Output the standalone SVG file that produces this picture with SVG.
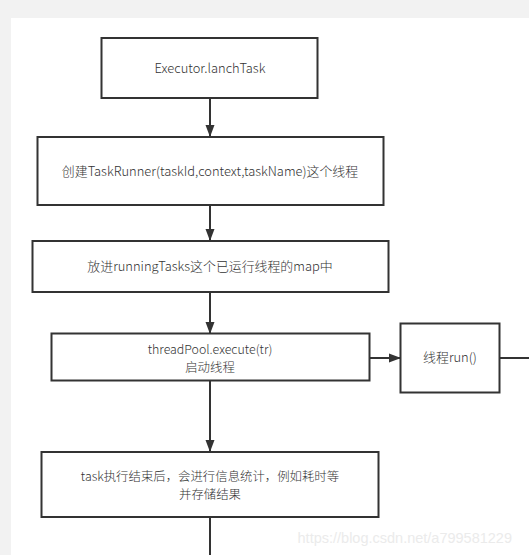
<svg xmlns="http://www.w3.org/2000/svg" width="529" height="555" viewBox="0 0 529 555">
<style>
.box{fill:#fff;stroke:#333;stroke-width:2}
.t{font-family:"Noto Sans CJK SC","Noto Sans",sans-serif;font-size:12.9px;font-weight:300;fill:#333;text-anchor:middle}
.m{font-size:12.4px}
.ln{stroke:#333;stroke-width:2;fill:none}
</style>
<defs>
<marker id="ah" markerWidth="12" markerHeight="10" refX="11" refY="5" orient="auto" markerUnits="userSpaceOnUse">
<path d="M0,0.5 L12,5 L0,9.5 Z" fill="#333"/>
</marker>
</defs>
<rect x="0" y="0" width="529" height="555" fill="#f2f2f2"/>
<rect x="11" y="18" width="518" height="537" fill="#fff"/>
<g id="connectors">
<line class="ln" x1="210" y1="98" x2="210" y2="136" marker-end="url(#ah)"/>
<line class="ln" x1="210" y1="205" x2="210" y2="240" marker-end="url(#ah)"/>
<line class="ln" x1="210" y1="292" x2="210" y2="333" marker-end="url(#ah)"/>
<line class="ln" x1="370" y1="358" x2="400" y2="358" marker-end="url(#ah)"/>
<line class="ln" x1="500" y1="358" x2="529" y2="358"/>
<line class="ln" x1="210" y1="381" x2="210" y2="451" marker-end="url(#ah)"/>
<line class="ln" x1="210" y1="517" x2="210" y2="555"/>
</g>
<g id="n1">
<rect class="box" x="101.5" y="38" width="216" height="60"/>
<text class="t" x="210" y="73">Executor.lanchTask</text>
</g>
<g id="n2">
<rect class="box" x="37.5" y="137" width="346" height="68"/>
<text class="t" x="210" y="176">创建TaskRunner(taskId,context,taskName)这个线程</text>
</g>
<g id="n3">
<rect class="box" x="32.5" y="241" width="356" height="51"/>
<text class="t" x="210" y="271">放进runningTasks这个已运行线程的map中</text>
</g>
<g id="n4">
<rect class="box" x="51.5" y="333.5" width="318" height="47"/>
<text class="t m" x="210" y="354">threadPool.execute(tr)</text>
<text class="t m" x="210" y="372">启动线程</text>
</g>
<g id="n5">
<rect class="box" x="400.5" y="323.5" width="99" height="69"/>
<text class="t" x="450" y="362">线程run()</text>
</g>
<g id="n6">
<rect class="box" x="41.5" y="452" width="337" height="65"/>
<text class="t m" x="210" y="481">task执行结束后，会进行信息统计，例如耗时等</text>
<text class="t m" x="210" y="499">并存储结果</text>
</g>
<text x="512" y="543" font-family="Liberation Sans, Arial, sans-serif" font-size="14.5" fill="#ebebeb" text-anchor="end">https://blog.csdn.net/a799581229</text>
</svg>
